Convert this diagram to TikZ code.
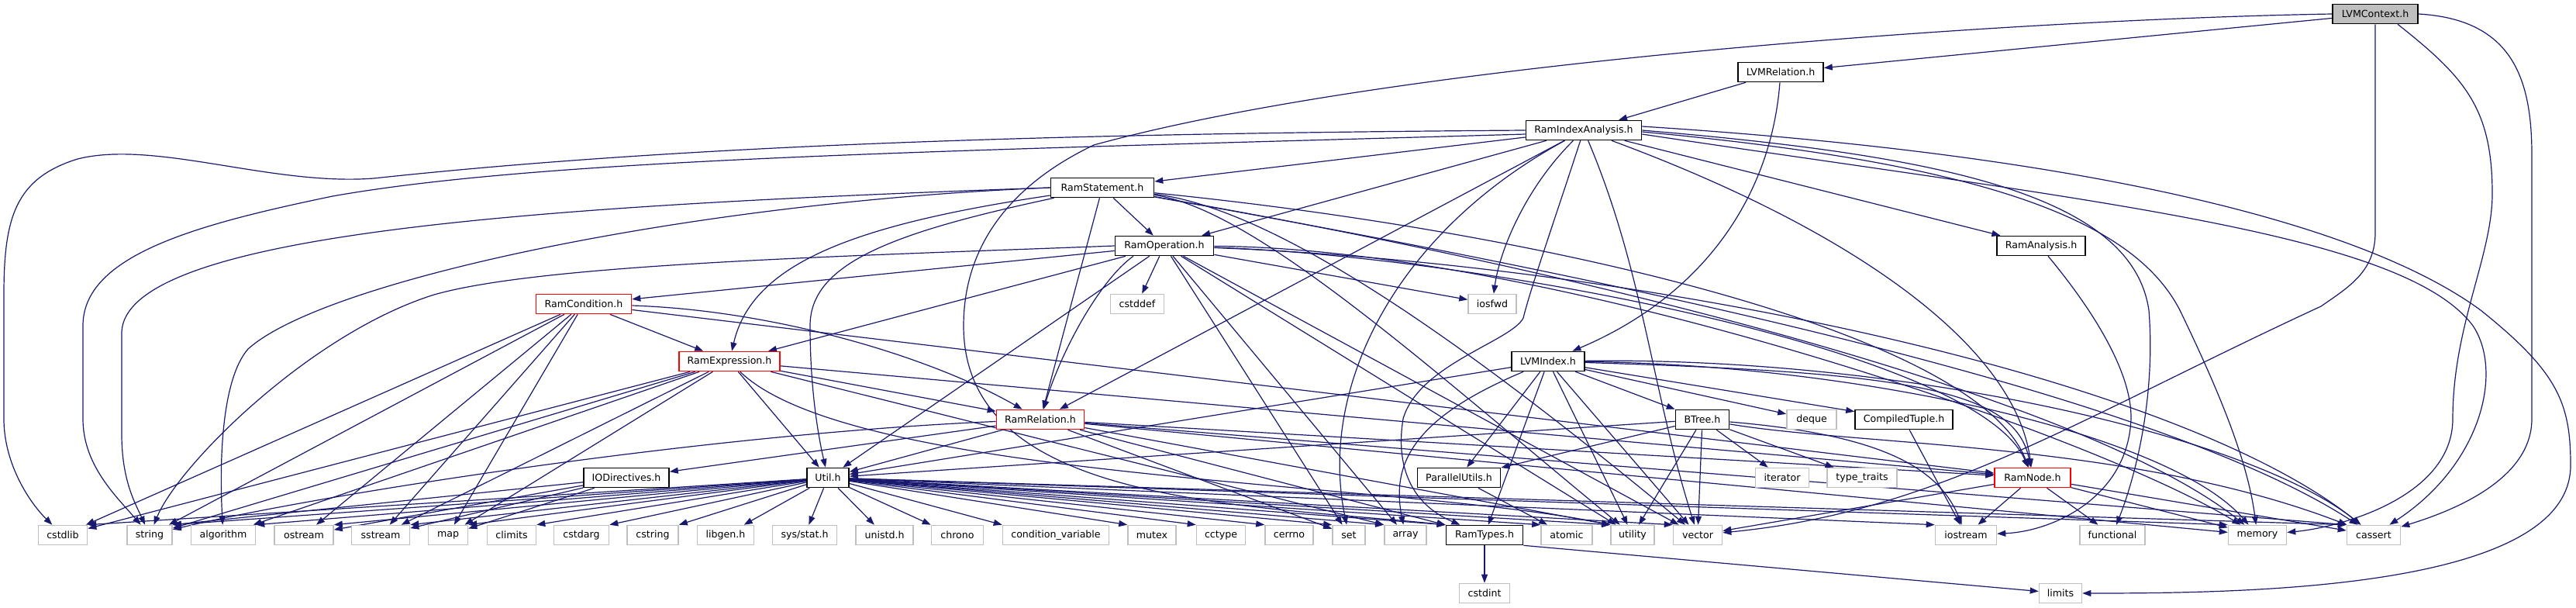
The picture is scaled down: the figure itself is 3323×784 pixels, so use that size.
\documentclass[tikz,border=0pt]{standalone}
\usepackage{fontspec}
\setmainfont{DejaVu Sans}
\usetikzlibrary{arrows.meta}
\pgfdeclarelayer{back}
\pgfdeclarelayer{bg}
\pgfsetlayers{back,bg,main}
\definecolor{edgec}{HTML}{191970}
\definecolor{grayb}{HTML}{BFBFBF}
\definecolor{redb}{HTML}{FF0000}
\begin{document}
\begin{tikzpicture}[x=1pt,y=-1pt,
  every node/.style={font=\fontsize{12.6}{15}\selectfont, text=black},
  nb/.style={draw=black, line width=1.6pt, fill=white, minimum height=25pt, inner sep=0pt},
  sysb/.style={draw=grayb, line width=1.6pt, fill=white, minimum height=25pt, inner sep=0pt},
  redbox/.style={draw=redb, line width=1.6pt, fill=white, minimum height=25pt, inner sep=0pt},
  topb/.style={draw=black, line width=1.6pt, fill=grayb, minimum height=25pt, inner sep=0pt},
  edg/.style={draw=edgec, line width=1.2pt, -{Triangle[length=11pt,width=8pt]}}
]
\useasboundingbox (0,0) rectangle (3323,784);
\begin{pgfonlayer}{back}
\fill[white] (0,0) rectangle (3323,784);
\end{pgfonlayer}
% ---------- nodes ----------
\node[topb, minimum width=110pt] (ctx) at (3064,18) {LVMContext.h};
\node[nb, minimum width=110pt] (lrel) at (2297,93) {LVMRelation.h};
\node[nb, minimum width=149pt] (ria) at (2043,168) {RamIndexAnalysis.h};
\node[nb, minimum width=133pt] (rst) at (1422,242) {RamStatement.h};
\node[nb, minimum width=127pt] (rop) at (1502,317) {RamOperation.h};
\node[nb, minimum width=114pt] (ran) at (2633,317) {RamAnalysis.h};
\node[redbox, minimum width=123pt] (rcond) at (753,392) {RamCondition.h};
\node[sysb, minimum width=69pt] (cstddef) at (1467,392) {cstddef};
\node[sysb, minimum width=62pt] (iosfwd) at (1925,392) {iosfwd};
\node[redbox, minimum width=130pt] (rexp) at (941,466) {RamExpression.h};
\node[nb, minimum width=94pt] (lidx) at (1997,466) {LVMIndex.h};
\node[redbox, minimum width=113pt] (rrel) at (1342,541) {RamRelation.h};
\node[nb, minimum width=69pt] (btree) at (2196,541) {BTree.h};
\node[sysb, minimum width=64pt] (deque) at (2337,541) {deque};
\node[nb, minimum width=126pt] (ctup) at (2456,541) {CompiledTuple.h};
\node[nb, minimum width=110pt] (iod) at (808,616) {IODirectives.h};
\node[nb, minimum width=54pt] (util) at (1068,616) {Util.h};
\node[nb, minimum width=107pt] (par) at (1882,616) {ParallelUtils.h};
\node[sysb, minimum width=69pt] (iter) at (2299,616) {iterator};
\node[sysb, minimum width=90pt] (tt) at (2402,616) {type\_traits};
\node[redbox, minimum width=98pt] (rnode) at (2622,616) {RamNode.h};
% bottom row
\node[sysb, minimum width=63pt] (cstdlib) at (81,690) {cstdlib};
\node[sysb, minimum width=58pt] (string) at (193,690) {string};
\node[sysb, minimum width=83pt] (algorithm) at (288,690) {algorithm};
\node[sysb, minimum width=76pt] (ostream) at (392,690) {ostream};
\node[sysb, minimum width=75pt] (sstream) at (491,690) {sstream};
\node[sysb, minimum width=51pt] (map) at (578,690) {map};
\node[sysb, minimum width=63pt] (climits) at (660,690) {climits};
\node[sysb, minimum width=71pt] (cstdarg) at (750,690) {cstdarg};
\node[sysb, minimum width=66pt] (cstring) at (842,690) {cstring};
\node[sysb, minimum width=73pt] (libgen) at (936,690) {libgen.h};
\node[sysb, minimum width=83pt] (sysstat) at (1038,690) {sys/stat.h};
\node[sysb, minimum width=74pt] (unistd) at (1141,690) {unistd.h};
\node[sysb, minimum width=67pt] (chrono) at (1235,690) {chrono};
\node[sysb, minimum width=137pt] (condvar) at (1362,690) {condition\_variable};
\node[sysb, minimum width=62pt] (mutex) at (1486,690) {mutex};
\node[sysb, minimum width=63pt] (cctype) at (1575,690) {cctype};
\node[sysb, minimum width=62pt] (cerrno) at (1663,690) {cerrno};
\node[sysb, minimum width=42pt] (set) at (1740,690) {set};
\node[sysb, minimum width=54pt] (array) at (1813,690) {array};
\node[nb, minimum width=99pt] (rtypes) at (1915,690) {RamTypes.h};
\node[sysb, minimum width=66pt] (atomic) at (2021,690) {atomic};
\node[sysb, minimum width=56pt] (utility) at (2106,690) {utility};
\node[sysb, minimum width=63pt] (vector) at (2190,690) {vector};
\node[sysb, minimum width=79pt] (iostream) at (2536,690) {iostream};
\node[sysb, minimum width=84pt] (functional) at (2725,690) {functional};
\node[sysb, minimum width=75pt] (memory) at (2912,690) {memory};
\node[sysb, minimum width=69pt] (cassert) at (3062,690) {cassert};
\node[sysb, minimum width=65pt] (cstdint) at (1915,765) {cstdint};
\node[sysb, minimum width=55pt] (limits) at (2658,765) {limits};
% ---------- edges ----------
\begin{pgfonlayer}{bg}
% LVMContext
\draw[edg] (ctx) -- (lrel);
\draw[edg] (ctx.west) .. controls (2600,25) and (1800,80) .. (1411,187) .. controls (1300,240) and (1243,320) .. (1243,420) .. controls (1243,650) and (1600,650) .. (rtypes.north west);
\draw[edg] (ctx.south) -- (3064,300) .. controls (3064,350) and (3030,370) .. (2994,395) .. controls (2680,540) and (2500,660) .. (vector);
\draw[edg] ([xshift=29pt]ctx.south) .. controls (3180,100) and (3215,140) .. (3215,250) .. controls (3215,330) and (3164,420) .. (3164,540) .. controls (3164,640) and (3020,680) .. (memory);
\draw[edg] (ctx.east) .. controls (3240,25) and (3266,100) .. (3266,200) -- (3266,540) .. controls (3266,620) and (3160,660) .. (cassert);
% LVMRelation
\draw[edg] (lrel) -- (ria);
\draw[edg] (lrel) .. controls (2285,250) and (2200,380) .. (lidx);
% RamIndexAnalysis
\draw[edg] (ria) -- (rst);
\draw[edg] (ria) -- (rop);
\draw[edg] (ria) -- (ran);
\draw[edg] (ria) .. controls (2400,300) and (2600,450) .. (rnode);
\draw[edg] (ria) -- (rrel);
\draw[edg] (ria) .. controls (1970,240) and (1935,320) .. (iosfwd);
\draw[edg] (ria) .. controls (2000,300) and (1975,370) .. (1965,410) .. controls (1950,440) and (1830,470) .. (1810,540) .. controls (1800,600) and (1820,650) .. (rtypes);
\draw[edg] (ria) .. controls (1800,300) and (1700,500) .. (set);
\draw[edg] (ria) .. controls (2120,350) and (2130,500) .. (vector);
\draw[edg] (ria.west) .. controls (1400,172) and (900,185) .. (482,230) .. controls (350,240) and (200,180) .. (100,205) .. controls (20,230) and (5,280) .. (5,380) -- (5,540) .. controls (5,600) and (40,650) .. (cstdlib);
\draw[edg] ([yshift=-5pt]ria.west) .. controls (1200,195) and (700,205) .. (429,253) .. controls (250,290) and (107,330) .. (107,420) -- (107,540) .. controls (107,600) and (150,640) .. (string);
\draw[edg] ([yshift=5pt]ria.east) .. controls (2700,200) and (3050,290) .. (3200,400) .. controls (3300,480) and (3316,520) .. (3316,600) .. controls (3316,760) and (2900,765) .. (limits);
\draw[edg] ([yshift=-5pt]ria.east) .. controls (2700,260) and (3100,300) .. (3190,420) .. controls (3230,480) and (3200,600) .. (cassert);
\draw[edg] (ria.east) .. controls (2500,200) and (2750,250) .. (2772,400) .. controls (2780,500) and (2760,600) .. (functional);
\draw[edg] ([yshift=-2pt]ria.east) .. controls (2550,210) and (2750,280) .. (2812,400) .. controls (2870,520) and (2900,600) .. (memory);
% RamStatement
\draw[edg] (rst) -- (rop);
\draw[edg] (rst) -- (rrel);
\draw[edg] (rst) .. controls (1100,290) and (970,340) .. (rexp);
\draw[edg] (rst) .. controls (2000,300) and (2550,430) .. (rnode);
\draw[edg] (rst) .. controls (1150,300) and (1045,340) .. (1045,420) .. controls (1045,500) and (1055,560) .. (util);
\draw[edg] (rst.west) .. controls (700,265) and (157,300) .. (157,430) -- (157,560) .. controls (157,620) and (175,650) .. (string);
\draw[edg] (rst.west) .. controls (900,260) and (420,360) .. (320,450) .. controls (285,490) and (283,600) .. (algorithm);
\draw[edg] (rst) .. controls (2100,360) and (2700,520) .. (memory);
\draw[edg] (rst) .. controls (1650,270) and (1900,450) .. (vector);
\draw[edg] (rst) .. controls (2200,380) and (2800,520) .. (cassert);
\draw[edg] (rst) .. controls (1620,270) and (1850,480) .. (utility);
% RamOperation
\draw[edg] (rop) -- (rcond);
\draw[edg] (rop) -- (rexp);
\draw[edg] ([xshift=-40pt]rop.south) .. controls (1420,360) and (1370,450) .. (rrel);
\draw[edg] (rop) .. controls (1900,330) and (2550,450) .. (rnode);
\draw[edg] (rop) -- (util);
\draw[edg] (rop) -- (cstddef);
\draw[edg] (rop) -- (iosfwd);
\draw[edg] (rop.west) .. controls (1100,330) and (700,340) .. (560,380) .. controls (400,430) and (230,600) .. (string);
\draw[edg] (rop) -- (set);
\draw[edg] (rop) -- (utility);
\draw[edg] (rop) -- (vector);
\draw[edg] (rop) .. controls (2000,320) and (2700,560) .. (memory);
\draw[edg] (rop) .. controls (2100,340) and (2800,480) .. (cassert);
\draw[edg] (rop) -- (array);
% RamCondition
\draw[edg] (rcond) -- (rexp);
\draw[edg] (rcond) .. controls (1000,400) and (1200,460) .. (rrel);
\draw[edg] (rcond) -- (rnode);
\draw[edg] (rcond) -- (cstdlib);
\draw[edg] (rcond) -- (string);
\draw[edg] (rcond) -- (ostream);
\draw[edg] (rcond) -- (sstream);
\draw[edg] (rcond) -- (map);
% RamExpression
\draw[edg] (rexp) -- (rrel);
\draw[edg] (rexp) -- (rnode);
\draw[edg] (rexp) -- (util);
\draw[edg] (rexp) -- (cstdlib);
\draw[edg] (rexp) -- (string);
\draw[edg] (rexp) -- (algorithm);
\draw[edg] (rexp) -- (map);
\draw[edg] (rexp) -- (sstream);
\draw[edg] (rexp) -- (array.north west);
\draw[edg] (rexp) .. controls (1100,620) and (1800,620) .. (utility.north west);
% RamRelation
\draw[edg] (rrel) -- (iod);
\draw[edg] (rrel) -- (util);
\draw[edg] (rrel) -- (rnode);
\draw[edg] (rrel) -- (rtypes);
\draw[edg] (rrel) .. controls (900,560) and (400,640) .. (string);
\draw[edg] (rrel) -- (set);
\draw[edg] (rrel) -- (utility.north west);
\draw[edg] (rrel) -- (memory);
\draw[edg] (rrel) -- (cassert.north west);
% IODirectives
\draw[edg] (iod) -- (string.north east);
\draw[edg] (iod) -- (ostream);
\draw[edg] (iod) -- (sstream);
\draw[edg] (iod) -- (map);
% LVMIndex
\draw[edg] (lidx) -- (util);
\draw[edg] (lidx) -- (btree);
\draw[edg] (lidx) -- (ctup);
\draw[edg] (lidx) -- (deque);
\draw[edg] (lidx) -- (par);
\draw[edg] (lidx) -- (rtypes);
\draw[edg] (lidx) .. controls (1820,540) and (1795,600) .. (array);
\draw[edg] (lidx) -- (utility);
\draw[edg] (lidx) -- (vector);
\draw[edg] (lidx) .. controls (2450,480) and (2600,500) .. (rnode);
\draw[edg] (lidx) .. controls (2400,470) and (2800,560) .. (memory);
\draw[edg] (lidx) .. controls (2450,460) and (2900,560) .. (cassert);
% BTree
\draw[edg] (btree) -- (par);
\draw[edg] (btree) -- (util);
\draw[edg] (btree) -- (utility);
\draw[edg] (btree) -- (vector);
\draw[edg] (btree) -- (iter);
\draw[edg] (btree) -- (tt);
\draw[edg] (btree) .. controls (2420,560) and (2500,600) .. (iostream);
\draw[edg] (btree) .. controls (2400,575) and (2750,570) .. (cassert);
% others
\draw[edg] (ctup) -- (iostream);
\draw[edg] (par) -- (atomic);
\draw[edg] (rtypes) -- (cstdint);
\draw[edg] (rtypes.south east) -- (limits);
\draw[edg] (rnode) -- (iostream);
\draw[edg] (rnode) -- (functional);
\draw[edg] (rnode) -- (memory);
\draw[edg] (rnode) -- (cassert);
\draw[edg] (rnode) -- (vector);
\draw[edg] ([xshift=9pt]ran.south) .. controls (2700,400) and (2750,480) .. (2749,540) .. controls (2745,640) and (2650,685) .. (iostream);
% Util
\foreach \t in {cstdlib,string,algorithm,ostream,sstream,map,climits,cstdarg,cstring}
  \draw[edg] (util) -- (\t.north east);
\foreach \t in {libgen,sysstat,unistd}
  \draw[edg] (util) -- (\t);
\foreach \t in {chrono,condvar,mutex,cctype,cerrno,set,array,rtypes,atomic,utility,vector,iostream,memory,cassert}
  \draw[edg] (util) -- (\t.north west);
\end{pgfonlayer}
\end{tikzpicture}
\end{document}
